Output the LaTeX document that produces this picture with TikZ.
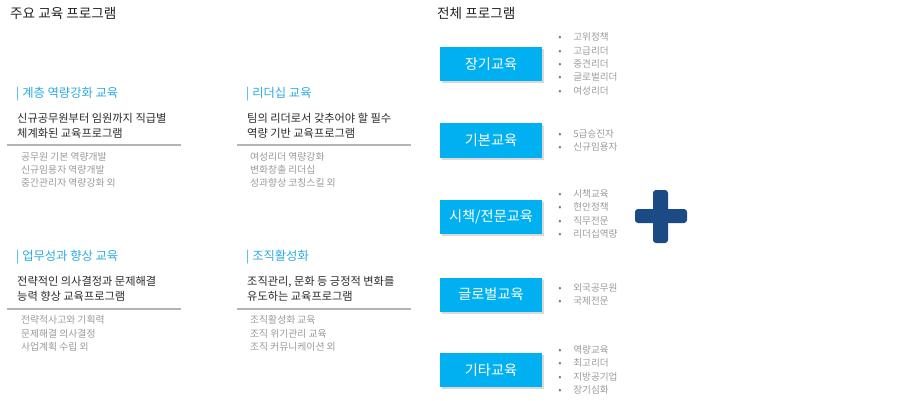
\documentclass[tikz,border=0pt]{standalone}
\usepackage{fontspec}
\setmainfont{Noto Sans CJK KR}
\usepackage{xcolor}
\usetikzlibrary{positioning,shadows}
\definecolor{titledark}{HTML}{222222}
\definecolor{headcyan}{HTML}{29ABE2}
\definecolor{bodydark}{HTML}{2A2A2A}
\definecolor{listgrey}{HTML}{9A9A9A}
\definecolor{rulegrey}{HTML}{B4B4B4}
\definecolor{boxcyan}{HTML}{00B0F0}
\definecolor{bulletgrey}{HTML}{7A7A7A}
\definecolor{plusnavy}{HTML}{1B4A85}
\newcommand{\listdot}{\makebox[15pt][l]{\color{bulletgrey}•}}
\tikzset{
    area-title/.style = {anchor=west, inner sep=0pt, text=titledark, font=\fontsize{13.6}{16}\selectfont},
    group-head/.style = {anchor=west, inner sep=0pt, text=headcyan, font=\fontsize{12.3}{14}\selectfont},
    group-body/.style = {anchor=west, inner sep=0pt, align=left, text=bodydark, font=\fontsize{11.2}{14.5}\selectfont},
    group-list/.style = {anchor=west, inner sep=0pt, align=left, text=listgrey, font=\fontsize{9.8}{13.3}\selectfont},
    group-rule/.style = {draw=rulegrey, line width=1.5pt},
    program-box/.style = {fill=boxcyan, text=white, minimum width=102pt, minimum height=34pt, inner sep=0pt, font=\fontsize{14.2}{16}\selectfont, drop shadow={shadow xshift=2pt, shadow yshift=-2pt, opacity=0.3}},
    program-list/.style = {anchor=west, inner sep=0pt, align=left, text=listgrey, font=\fontsize{9.6}{13.3}\selectfont, right=16pt of #1},
}

\begin{document}
\begin{tikzpicture}[x=1pt, y=-1pt]
\useasboundingbox (0,0) rectangle (920,401);

% main programs
\node[area-title] (main-title) at (10,13) {주요 교육 프로그램};

\node[group-head] (tier-head) at (16,94) {| 계층 역량강화 교육};
\node[group-body] (tier-body) at (17,126) {신규공무원부터 임원까지 직급별\\체계화된 교육프로그램};
\draw[group-rule] (7,145) -- (181,145);
\node[group-list] (tier-list) at (21,170) {공무원 기본 역량개발\\신규임용자 역량개발\\중간관리자 역량강화 외};

\node[group-head] (lead-head) at (246,94) {| 리더십 교육};
\node[group-body] (lead-body) at (247,126) {팀의 리더로서 갖추어야 할 필수\\역량 기반 교육프로그램};
\draw[group-rule] (237,145) -- (411,145);
\node[group-list] (lead-list) at (250,170) {여성리더 역량강화\\변화창출 리더십\\성과향상 코칭스킬 외};

\node[group-head] (work-head) at (16,257.5) {| 업무성과 향상 교육};
\node[group-body] (work-body) at (17,289) {전략적인 의사결정과 문제해결\\능력 향상 교육프로그램};
\draw[group-rule] (7,309) -- (181,309);
\node[group-list] (work-list) at (21,333.5) {전략적사고와 기획력\\문제해결 의사결정\\사업계획 수립 외};

\node[group-head] (org-head) at (246,257.5) {| 조직활성화};
\node[group-body] (org-body) at (247,289) {조직관리, 문화 등 긍정적 변화를\\유도하는 교육프로그램};
\draw[group-rule] (237,309) -- (411,309);
\node[group-list] (org-list) at (250,333.5) {조직활성화 교육\\조직 위기관리 교육\\조직 커뮤니케이션 외};

% all programs
\node[area-title] (all-title) at (437,13) {전체 프로그램};

\node[program-box] (long-box) at (491,64) {장기교육};
\node[program-list=long-box] (long-list) {\listdot 고위정책\\\listdot 고급리더\\\listdot 중견리더\\\listdot 글로벌리더\\\listdot 여성리더};

\node[program-box] (basic-box) at (491,140.5) {기본교육};
\node[program-list=basic-box] (basic-list) {\listdot 5급승진자\\\listdot 신규임용자};

\node[program-box] (policy-box) at (491,217) {시책/전문교육};
\node[program-list=policy-box, yshift=3pt] (policy-list) {\listdot 시책교육\\\listdot 현안정책\\\listdot 직무전문\\\listdot 리더십역량};

\node[program-box] (global-box) at (491,294.5) {글로벌교육};
\node[program-list=global-box] (global-list) {\listdot 외국공무원\\\listdot 국제전문};

\node[program-box] (other-box) at (491,370) {기타교육};
\node[program-list=other-box] (other-list) {\listdot 역량교육\\\listdot 최고리더\\\listdot 지방공기업\\\listdot 장기심화};

% plus sign
\fill[plusnavy, rounded corners=3pt] (635,209) rectangle (687,223);
\fill[plusnavy, rounded corners=3pt] (653,190) rectangle (668,243);
\end{tikzpicture}
\end{document}
